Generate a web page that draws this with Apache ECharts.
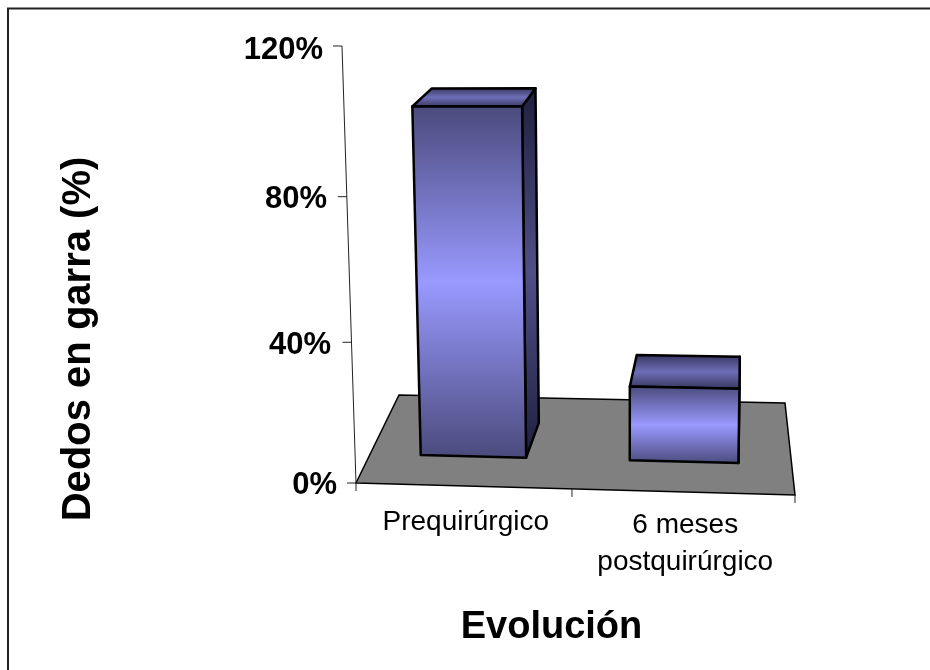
<!DOCTYPE html>
<html>
<head>
<meta charset="utf-8">
<style>html,body{margin:0;padding:0;background:#fff}#c{width:930px;height:670px}</style>
<script src="https://cdn.jsdelivr.net/npm/echarts@6/dist/echarts.min.js"></script>
</head>
<body>
<div id="c"></div>
<script>
// Clawed toes before surgery and six months after
const categories = ['Prequirúrgico', '6 meses\npostquirúrgico'];
const clawToePercent = [100, 21.5];
const axisTicks = [0, 40, 80, 120];
const yTitle = 'Dedos en garra (%)';
const xTitle = 'Evolución';

// Projective camera: (u along categories, d into the floor, t up the value axis)
const CAM = {
  x: [413.87, 97.46, -31.1, 356],
  y: [-3.65, -34.09, -439.3, 483],
  w: [-0.03161, 0.13649, -0.05, 1]
};
function project(u, d, t) {
  const w = CAM.w[0] * u + CAM.w[1] * d + CAM.w[2] * t + CAM.w[3];
  return [
    (CAM.x[0] * u + CAM.x[1] * d + CAM.x[2] * t + CAM.x[3]) / w,
    (CAM.y[0] * u + CAM.y[1] * d + CAM.y[2] * t + CAM.y[3]) / w
  ];
}

const BAR_DEPTH = [0.305, 0.695];   // front and back of each column on the floor
const BAR_BAND = 0.508;             // column width as a share of the category band
const INK = '#000';

// Back edges of a column lean slightly further right than the floor suggests.
const backU = u => u + 0.011 * Math.sqrt(1 - u);

function faceFill(stops) {
  return new echarts.graphic.LinearGradient(0, 0, 0, 1, stops.map((c, i) => ({
    offset: i / (stops.length - 1), color: c
  })));
}
const FRONT = ['#4a4a7c', '#9999ff', '#4a4a7c'];
const TOP = ['#33335a', '#6e6eb8', '#33335a'];
const SIDE = ['#1f1f3e', '#4f4f88', '#1f1f3e'];

function poly(points, fill, lineWidth) {
  return {
    type: 'polygon',
    shape: { points },
    style: { fill, stroke: INK, lineWidth, lineJoin: 'round' }
  };
}

// Turns the grid's pixel coordinates into the camera's normalised coordinates.
function toCamera(params, api, category, value) {
  const g = params.coordSys;
  const p = api.coord([category, value]);
  return { u: (p[0] - g.x) / g.width, t: (g.y + g.height - p[1]) / g.height };
}

function renderBar(params, api) {
  const idx = api.value(0);
  const val = api.value(1);
  const g = params.coordSys;
  const c = toCamera(params, api, idx, val);
  const half = api.size([1, 0])[0] * BAR_BAND / 2 / g.width;
  const u0 = c.u - half, u1 = c.u + half;
  const [d0, d1] = BAR_DEPTH;
  const fb = [project(u0, d0, 0), project(u1, d0, 0)];
  const ft = [project(u0, d0, c.t), project(u1, d0, c.t)];
  const bb = project(backU(u1), d1, 0);
  const bt = [project(backU(u0), d1, c.t), project(backU(u1), d1, c.t)];
  return {
    type: 'group',
    children: [
      poly([fb[1], bb, bt[1], ft[1]], faceFill(SIDE), 2.5),
      poly([ft[0], ft[1], bt[1], bt[0]], faceFill(TOP), 2.5),
      poly([fb[0], fb[1], ft[1], ft[0]], faceFill(FRONT), 2.5)
    ]
  };
}

// Grey floor under the columns
function renderFloor() {
  return {
    type: 'polygon',
    shape: { points: [project(0, 0, 0), project(1, 0, 0), project(1, 1, 0), project(0, 1, 0)] },
    style: { fill: '#808080', stroke: INK, lineWidth: 1.5 }
  };
}

// Slanted value axis with its tick marks and the category tick marks
function renderAxisFrame(params, api) {
  const seg = (a, b) => ({
    type: 'line',
    shape: { x1: a[0], y1: a[1], x2: b[0], y2: b[1] },
    style: { stroke: '#222', lineWidth: 1 }
  });
  const children = [seg(project(0, 0, 0), project(0, 0, 1))];
  const g = params.coordSys;
  axisTicks.forEach(v => {
    const t = (g.y + g.height - api.coord([0, v])[1]) / g.height;
    const p = project(0, 0, t);
    children.push(seg([p[0] - 9, p[1]], p));
  });
  [0, 1, 2].forEach(k => {
    const p = project(k / categories.length, 0, 0);
    children.push(seg(p, [p[0], p[1] + 8]));
  });
  return { type: 'group', children };
}

const FONT = '"Liberation Sans", Arial, sans-serif';
const tickLabelStyle = { fontFamily: FONT, fontWeight: 'bold', fontSize: 31, color: '#000' };
// Labels follow the slant of the value axis, so each one gets its own inset.
const tickInset = {
  0: [2, 11, 0, 0],
  40: [10, 17, 0, 0],
  80: [6, 21, 0, 0],
  120: [0, 25, 4, 0]
};
const rich = {};
axisTicks.forEach(v => {
  rich['t' + v] = Object.assign({}, tickLabelStyle, { padding: tickInset[v] });
});

const chart = echarts.init(document.getElementById('c'), null, { renderer: 'canvas' });
chart.setOption({
  animation: false,
  backgroundColor: '#fff',
  graphic: [{
    type: 'polyline',
    silent: true,
    shape: { points: [[8, 670], [8, 8.5], [930, 8.5]] },
    style: { stroke: '#222', lineWidth: 2, fill: null }
  }],
  grid: { left: 356, top: 52, width: 439, height: 432 },
  xAxis: {
    type: 'category',
    data: categories,
    axisLine: { show: false },
    axisTick: { show: false },
    name: xTitle,
    nameLocation: 'middle',
    nameGap: 125,
    nameTextStyle: { fontFamily: FONT, fontWeight: 'bold', fontSize: 38, color: '#000', padding: [0, 48, 0, 0] },
    axisLabel: {
      interval: 0,
      margin: 20,
      fontFamily: FONT,
      fontSize: 28,
      lineHeight: 37,
      color: '#000',
      verticalAlign: 'top',
      formatter: (v, i) => i === 0 ? v : '{second|' + v.replace('\n', '}\n{second|') + '}',
      rich: { second: { fontFamily: FONT, fontSize: 28, lineHeight: 37, color: '#000', padding: [6, 0, 0, 0] } }
    }
  },
  yAxis: {
    type: 'value',
    min: 0,
    max: 120,
    interval: 40,
    splitLine: { show: false },
    axisLine: { show: false },
    axisTick: { show: false },
    name: yTitle,
    nameLocation: 'middle',
    nameGap: 257,
    nameRotate: 90,
    nameTextStyle: { fontFamily: FONT, fontWeight: 'bold', fontSize: 40, color: '#000', padding: [0, 142, 0, 0] },
    axisLabel: {
      margin: 8,
      formatter: v => '{t' + v + '|' + v + '%}',
      rich
    }
  },
  series: [
    { type: 'custom', name: 'Suelo', silent: true, z: 1, renderItem: renderFloor, data: [0] },
    { type: 'custom', name: 'Ejes', silent: true, z: 2, renderItem: renderAxisFrame, data: [0] },
    {
      type: 'custom',
      name: yTitle,
      z: 3,
      encode: { x: 0, y: 1 },
      renderItem: renderBar,
      data: clawToePercent.map((v, i) => [i, v])
    }
  ]
});
</script>
</body>
</html>
